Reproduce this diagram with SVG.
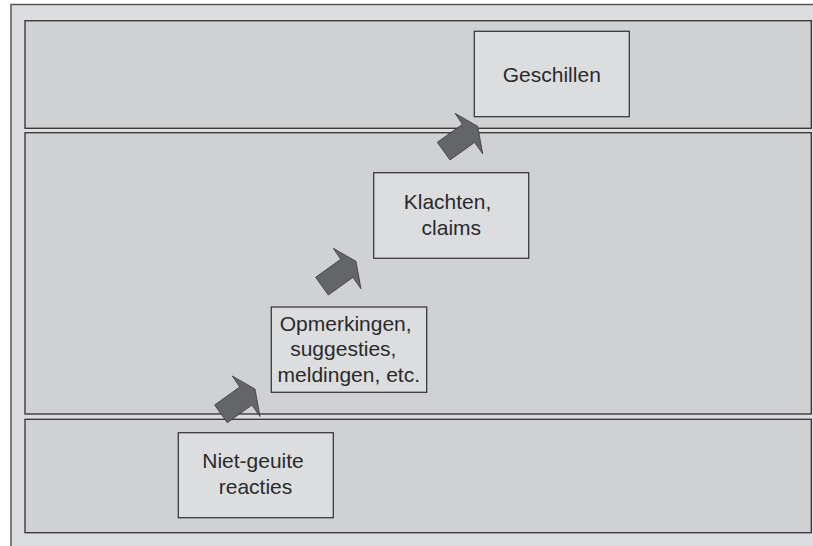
<svg xmlns="http://www.w3.org/2000/svg" width="813" height="546" viewBox="0 0 813 546">
  <defs>
    <style>
      .outer { fill: #dcdddf; stroke: #555658; stroke-width: 1.5; }
      .panel { fill: #d0d1d3; stroke: #3c3c3e; stroke-width: 1.4; }
      .box { fill: #dcdddf; stroke: #3a3a3c; stroke-width: 1.3; }
      .lbl { font-family: "Liberation Sans", Arial, sans-serif; font-size: 21px; fill: #2a2a2c; text-anchor: middle; }
      .arrow { fill: #646568; stroke: #3a3a3c; stroke-width: 0.8; stroke-linejoin: miter; }
    </style>
    <polygon id="arr" class="arrow" points="0,0 22.7,13 27.7,40.5 19.6,29.1 -5,46.7 -17.7,29 7.4,11"/>
  </defs>
  <rect width="813" height="546" fill="#ffffff"/>
  <rect class="outer" x="11" y="4.5" width="820" height="560"/>
  <g id="panels">
    <rect class="panel" x="25" y="20.7" width="786.3" height="107.6"/>
    <rect class="panel" x="25" y="132.7" width="786.3" height="281.3"/>
    <rect class="panel" x="25" y="419.3" width="786.3" height="113.4"/>
  </g>
  <g id="connectors">
    <use href="#arr" x="232.3" y="376"/>
    <use href="#arr" x="333.3" y="248.3"/>
    <use href="#arr" x="455" y="113.3"/>
  </g>
  <g id="node-geschillen">
    <rect class="box" x="474.3" y="31.3" width="155" height="85.4"/>
    <text class="lbl" x="551.8" y="81.7">Geschillen</text>
  </g>
  <g id="node-klachten">
    <rect class="box" x="373.7" y="172.7" width="155" height="85.6"/>
    <text class="lbl" x="447.5" y="209.3">Klachten,</text>
    <text class="lbl" x="451.3" y="235">claims</text>
  </g>
  <g id="node-opmerkingen">
    <rect class="box" x="271.3" y="307" width="155.4" height="85.3"/>
    <text class="lbl" x="345.7" y="330.7">Opmerkingen,</text>
    <text class="lbl" x="343.3" y="356.3">suggesties,</text>
    <text class="lbl" x="348.8" y="381.7">meldingen, etc.</text>
  </g>
  <g id="node-nietgeuite">
    <rect class="box" x="178.3" y="432.7" width="155" height="85"/>
    <text class="lbl" x="253" y="468.3">Niet-geuite</text>
    <text class="lbl" x="255.5" y="494">reacties</text>
  </g>
</svg>
